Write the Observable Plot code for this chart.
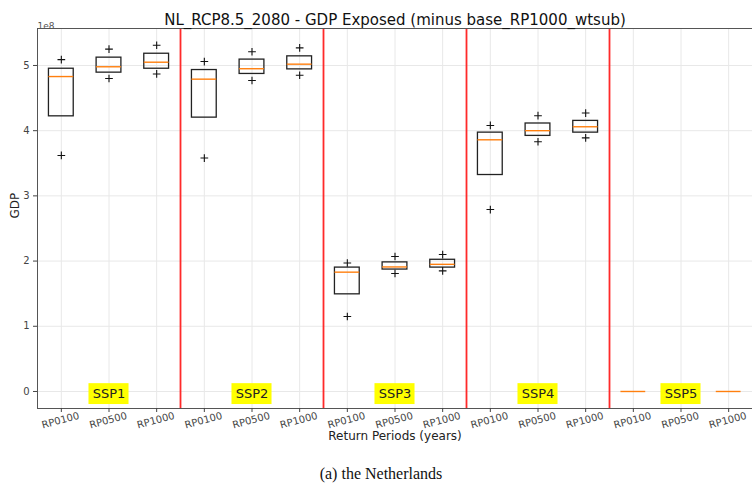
<!DOCTYPE html>
<html><head><meta charset="utf-8">
<script src="https://cdn.jsdelivr.net/npm/d3@7"></script>
<script src="https://cdn.jsdelivr.net/npm/@observablehq/plot@0.6"></script>
<style>
body{margin:0;background:#fff;font-family:"DejaVu Sans",sans-serif;}
#wrap{position:relative;width:752px;height:488px;}
#cap{position:absolute;left:0;top:465px;width:762px;text-align:center;font-family:"Liberation Serif","DejaVu Serif",serif;font-size:16px;color:#111;}
</style></head>
<body><div id="wrap"><div id="chart"></div><div id="cap">(a) the Netherlands</div></div>
<script>
const scenarios = ["SSP1","SSP2","SSP3","SSP4","SSP5"];
const periods = ["RP0100","RP0500","RP1000"];
// values in GDP units, order: SSP1 RP0100..RP1000, SSP2 ..., SSP5
const q1     = [4.22e8,4.89e8,4.95e8, 4.20e8,4.87e8,4.94e8, 1.49e8,1.87e8,1.90e8, 3.32e8,3.92e8,3.97e8, 0,0,0];
const q3     = [4.95e8,5.12e8,5.18e8, 4.93e8,5.09e8,5.14e8, 1.90e8,1.98e8,2.02e8, 3.97e8,4.11e8,4.15e8, 0,0,0];
const median = [4.83e8,4.98e8,5.05e8, 4.79e8,4.95e8,5.02e8, 1.83e8,1.91e8,1.95e8, 3.86e8,4.00e8,4.06e8, 0,0,0];
const upper  = [5.09e8,5.25e8,5.31e8, 5.06e8,5.21e8,5.27e8, 1.97e8,2.07e8,2.10e8, 4.08e8,4.23e8,4.27e8, 0,0,0];
const lower  = [3.62e8,4.80e8,4.87e8, 3.58e8,4.77e8,4.85e8, 1.15e8,1.81e8,1.85e8, 2.79e8,3.83e8,3.89e8, 0,0,0];
const yTicks = [0,1e8,2e8,3e8,4e8,5e8];

const rows = [];
scenarios.forEach((s, si) => periods.forEach((p, pi) => {
  const i = si*periods.length + pi;
  rows.push({i, s, p, q1:q1[i], q3:q3[i], med:median[i], up:upper[i], lo:lower[i]});
}));
const fliers = rows.filter(d => d.s !== "SSP5").flatMap(d => [{i:d.i, v:d.up},{i:d.i, v:d.lo}]);
const boundaries = scenarios.slice(1).map((_, k) => (k+1)*periods.length - 0.5);
const labels = scenarios.map((s, k) => ({s, c: k*periods.length + 1}));
const hw = 0.26;

const plot = Plot.plot({
  width: 752, height: 452,
  marginLeft: 37, marginRight: 0, marginTop: 28, marginBottom: 44,
  style: {fontFamily: '"DejaVu Sans", sans-serif', color: "#333", background: "white"},
  x: {type: "linear", domain: [-0.5, rows.length - 0.5], axis: null},
  y: {type: "linear", domain: [-0.261e8, 5.567e8], axis: null},
  marks: [
    Plot.ruleY(yTicks, {stroke: "#e8e8e8", strokeWidth: 1}),
    Plot.ruleX(rows, {x: "i", stroke: "#e8e8e8", strokeWidth: 1}),
    Plot.ruleX(boundaries, {stroke: "#ff2a2a", strokeWidth: 1.8}),
    Plot.rect(rows, {x1: d => d.i - hw, x2: d => d.i + hw, y1: "q1", y2: "q3", fill: "none", stroke: "#222", strokeWidth: 1.3}),
    Plot.ruleY(rows, {x1: d => d.i - hw, x2: d => d.i + hw, y: "med", stroke: "#ff7f0e", strokeWidth: 1.4}),
    Plot.dot(fliers, {x: "i", y: "v", symbol: "plus", r: 2.6, stroke: "#111", strokeWidth: 1.1}),
    Plot.rect(labels, {x1: d => d.c - 0.42, x2: d => d.c + 0.42, y1: -0.2e8, y2: 0.12e8, fill: "#ffff00"}),
    Plot.text(labels, {x: "c", y: -0.04e8, text: "s", fontSize: 13, fill: "#222"}),
    Plot.frame({stroke: "#555", strokeWidth: 1}),
    Plot.axisY(yTicks, {tickFormat: d => d/1e8, tickSize: 4, tickPadding: 4, fontSize: 10, label: null, stroke: "#444", fill: "#444"}),
    Plot.axisX(rows.map(d => d.i), {tickFormat: () => "", tickSize: 4, label: null, stroke: "#444"}),
    Plot.text(rows, {x: "i", text: "p", frameAnchor: "bottom", dy: 15, rotate: -15, fontSize: 10, fill: "#444", textAnchor: "middle"}),
    Plot.text(["Return Periods (years)"], {frameAnchor: "bottom", dy: 31, fontSize: 12, fill: "#222"}),
    Plot.text(["GDP"], {frameAnchor: "left", dx: -22, rotate: -90, fontSize: 12, fill: "#222"}),
    Plot.text(["1e8"], {frameAnchor: "top-left", dy: -6, dx: 0, textAnchor: "start", fontSize: 9, fill: "#555"}),
    Plot.text(["NL_RCP8.5_2080 - GDP Exposed (minus base_RP1000_wtsub)"], {frameAnchor: "top", lineAnchor: "bottom", dy: -4, fontSize: 15, fill: "#111"})
  ]
});
document.getElementById("chart").appendChild(plot);
</script></body></html>
